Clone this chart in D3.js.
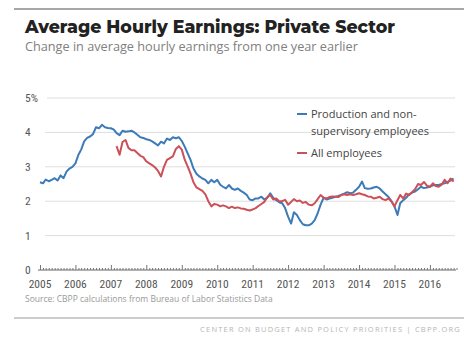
<!DOCTYPE html>
<html>
<head>
<meta charset="utf-8">
<script src="https://cdn.jsdelivr.net/npm/d3@7"></script>
<style>
  body { margin: 0; background: #fff; }
  svg { display: block; }
</style>
</head>
<body>
<svg id="chart" width="464" height="339"></svg>
<script>
// Year-over-year change in average hourly earnings, private sector (percent), monthly
const productionStart = "2005-01";
const production = [
  2.55, 2.52, 2.63, 2.58, 2.62, 2.67, 2.60, 2.75, 2.67, 2.86, 2.95, 3.00,
  3.10, 3.35, 3.50, 3.74, 3.84, 3.88, 3.95, 4.15, 4.12, 4.22, 4.15, 4.13,
  4.12, 4.08, 3.98, 3.92, 4.05, 4.02, 4.03, 4.05, 4.00, 3.93, 3.86, 3.84,
  3.80, 3.78, 3.74, 3.68, 3.62, 3.73, 3.68, 3.82, 3.78, 3.86, 3.83, 3.86,
  3.75, 3.58, 3.40, 3.20, 2.95, 2.80, 2.72, 2.66, 2.62, 2.52, 2.62, 2.55,
  2.62, 2.48, 2.42, 2.37, 2.47, 2.37, 2.33, 2.37, 2.30, 2.25, 2.18, 2.05,
  2.03, 2.08, 2.08, 2.13, 2.05, 2.10, 2.23, 2.10, 2.03, 1.97, 1.94, 1.80,
  1.55, 1.35, 1.68, 1.60, 1.45, 1.33, 1.30, 1.30, 1.35, 1.45, 1.65, 1.90,
  2.10, 2.05, 2.08, 2.10, 2.13, 2.15, 2.18, 2.22, 2.26, 2.23, 2.25, 2.33,
  2.42, 2.57, 2.38, 2.36, 2.37, 2.40, 2.42, 2.37, 2.28, 2.20, 2.12, 2.00,
  1.85, 1.60, 1.94, 2.03, 2.10, 2.20, 2.25, 2.28, 2.35, 2.42, 2.38, 2.40,
  2.42, 2.46, 2.47, 2.47, 2.50, 2.52, 2.56, 2.60, 2.66
];

const allEmployeesStart = "2007-03";
const allEmployees = [
                          3.60, 3.35, 3.72, 3.78, 3.55, 3.48, 3.48, 3.40, 3.32, 3.28,
  3.16, 3.10, 3.05, 2.98, 2.88, 2.72, 3.00, 3.20, 3.25, 3.30, 3.52, 3.60,
  3.50, 3.20, 3.02, 2.80, 2.55, 2.40, 2.35, 2.30, 2.20, 2.00, 1.85, 1.92,
  1.90, 1.85, 1.88, 1.85, 1.80, 1.84, 1.80, 1.82, 1.79, 1.78, 1.75, 1.73,
  1.76, 1.80, 1.86, 1.92, 1.98, 2.12, 2.18, 2.05, 2.08, 2.00, 2.00, 2.04,
  1.90, 1.98, 2.06, 2.00, 2.02, 1.95, 1.98, 1.90, 1.88, 1.94, 2.06, 2.18,
  2.10, 2.08, 2.12, 2.14, 2.13, 2.12, 2.18, 2.20, 2.18, 2.20, 2.18, 2.20,
  2.23, 2.20, 2.18, 2.14, 2.13, 2.08, 2.10, 2.13, 2.06, 2.03, 2.08, 1.99,
  1.85, 2.03, 2.18, 2.08, 2.22, 2.18, 2.26, 2.35, 2.50, 2.47, 2.56, 2.45,
  2.42, 2.52, 2.44, 2.42, 2.48, 2.62, 2.52, 2.66, 2.57
];

const yTicks = [0, 1, 2, 3, 4, 5];
const yearTicks = [2005, 2006, 2007, 2008, 2009, 2010, 2011, 2012, 2013, 2014, 2015, 2016];
const seriesLabels = [
  ["Production and non-", "supervisory employees"],
  ["All employees"]
];
const seriesColors = ["#3b7bb8", "#cc5058"];

const titleText = "Average Hourly Earnings: Private Sector";
const subtitleText = "Change in average hourly earnings from one year earlier";
const sourceText = "Source: CBPP calculations from Bureau of Labor Statistics Data";
const creditText = "CENTER ON BUDGET AND POLICY PRIORITIES | CBPP.ORG";

const parseMonth = d3.timeParse("%Y-%m");
function toSeries(start, values) {
  const t0 = parseMonth(start);
  return values.map((v, i) => ({ date: d3.timeMonth.offset(t0, i), value: v }));
}
const prodSeries = toSeries(productionStart, production);
const allSeries = toSeries(allEmployeesStart, allEmployees);

const svg = d3.select("#chart");

const x = d3.scaleTime()
  .domain([new Date(2005, 0, 1), new Date(2016, 9, 1)])
  .range([40, 456.5]);
const y = d3.scaleLinear().domain([0, 5]).range([270, 98]);

const sans = "'Open Sans', 'DejaVu Sans', sans-serif";
const narrow = "'Liberation Sans Narrow', 'Roboto Condensed', 'Liberation Sans', sans-serif";

// Frame rules
svg.append("line").attr("x1", 14).attr("x2", 464).attr("y1", 9).attr("y2", 9)
  .attr("stroke", "#8a8a8a").attr("stroke-width", 1.5);
svg.append("line").attr("x1", 14).attr("x2", 464).attr("y1", 318).attr("y2", 318)
  .attr("stroke", "#9a9a9a").attr("stroke-width", 1);

// Headings, scaled to their set widths
function fitText(sel, width) {
  const w = sel.node().getComputedTextLength();
  const fs = parseFloat(sel.attr("font-size"));
  sel.attr("font-size", (fs * width / w).toFixed(2));
}
const title = svg.append("text").attr("x", 25).attr("y", 33)
  .attr("font-family", "Montserrat, 'Open Sans', sans-serif").attr("font-weight", 800)
  .attr("font-size", 17).attr("fill", "#222").text(titleText);
fitText(title, 370);

const subtitle = svg.append("text").attr("x", 25).attr("y", 51)
  .attr("font-family", sans).attr("font-size", 11).attr("fill", "#808080").text(subtitleText);
fitText(subtitle, 333);

// Horizontal gridlines (value 0 carries the axis line instead)
svg.append("g").selectAll("line").data(yTicks.filter(d => d > 0)).join("line")
  .attr("x1", d => d === 5 ? 47 : 45).attr("x2", 455)
  .attr("y1", d => y(d)).attr("y2", d => y(d))
  .attr("stroke", "#dedede").attr("stroke-width", 1);

// Y tick labels
svg.append("g").selectAll("text").data(yTicks).join("text")
  .attr("x", 25).attr("y", d => y(d) + 4)
  .attr("font-family", narrow).attr("font-size", 11.5).attr("fill", "#555")
  .text(d => d === 5 ? "5%" : d);

// X axis: baseline with upward monthly ticks, taller at each January
const xAxis = d3.axisTop(x)
  .ticks(d3.timeMonth.every(1))
  .tickSize(2)
  .tickFormat("");
const gx = svg.append("g").attr("transform", "translate(0,270)").call(xAxis);
gx.select(".domain").attr("d", "M38,0H456").attr("stroke", "#666");
gx.selectAll(".tick line")
  .attr("stroke", "#777")
  .attr("y2", d => d.getMonth() === 0 ? -5 : -2);

svg.append("g").selectAll("text").data(yearTicks).join("text")
  .attr("x", d => x(new Date(d, 0, 1)))
  .attr("y", 288)
  .attr("text-anchor", "middle")
  .attr("font-family", narrow).attr("font-size", 11.5).attr("fill", "#555")
  .text(d => d);

// Series lines
const line = d3.line()
  .x(d => x(d.date))
  .y(d => y(d.value));

svg.append("path").datum(prodSeries)
  .attr("d", line).attr("fill", "none")
  .attr("stroke", seriesColors[0]).attr("stroke-width", 2)
  .attr("stroke-linejoin", "round");
svg.append("path").datum(allSeries)
  .attr("d", line).attr("fill", "none")
  .attr("stroke", seriesColors[1]).attr("stroke-width", 2)
  .attr("stroke-linejoin", "round");

// Legend
const legend = svg.append("g").attr("font-family", sans).attr("font-size", 11).attr("fill", "#444");
const legendRows = [118, 157];
seriesLabels.forEach((lines, i) => {
  const ly = legendRows[i];
  legend.append("line")
    .attr("x1", 297).attr("x2", 307).attr("y1", ly - 4).attr("y2", ly - 4)
    .attr("stroke", seriesColors[i]).attr("stroke-width", 2);
  lines.forEach((t, j) => {
    legend.append("text").attr("x", 311).attr("y", ly + j * 17).text(t);
  });
});

// Source and credit
svg.append("text").attr("x", 25).attr("y", 302)
  .attr("font-family", sans).attr("font-size", 8.5).attr("fill", "#999").text(sourceText);
svg.append("text").attr("x", 461).attr("y", 332)
  .attr("text-anchor", "end")
  .attr("font-family", sans).attr("font-size", 7.5).attr("letter-spacing", 1.2)
  .attr("fill", "#b5b5b5").text(creditText);
</script>
</body>
</html>
